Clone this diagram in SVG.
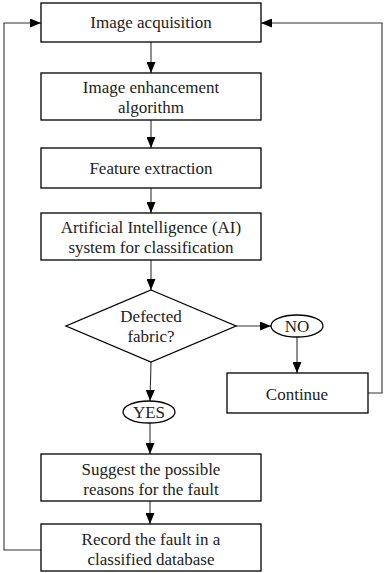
<svg xmlns="http://www.w3.org/2000/svg" width="384" height="573" viewBox="0 0 384 573">
<style>
.box{fill:#fff;stroke:#000;stroke-width:1.3}
.t{font-family:"Times New Roman","Liberation Serif",Tinos,"Nimbus Roman","DejaVu Serif",serif;font-size:17px;fill:#222;text-anchor:middle}
.c{fill:none;stroke:#333;stroke-width:1.1}
</style>
<defs>
<marker id="ah" markerWidth="11" markerHeight="9" refX="11" refY="4.5" orient="auto" markerUnits="userSpaceOnUse">
<path d="M0,0 L11,4.5 L0,9 Z" fill="#000"/>
</marker>
</defs>
<rect width="384" height="573" fill="#fff"/>
<g id="connectors">
<line class="c" x1="151" y1="42" x2="151" y2="73" marker-end="url(#ah)"/>
<line class="c" x1="151" y1="120" x2="151" y2="148" marker-end="url(#ah)"/>
<line class="c" x1="151" y1="188" x2="151" y2="213" marker-end="url(#ah)"/>
<line class="c" x1="151" y1="260" x2="151" y2="290" marker-end="url(#ah)"/>
<line class="c" x1="236" y1="326" x2="271" y2="326" marker-end="url(#ah)"/>
<line class="c" x1="297" y1="337" x2="297" y2="373" marker-end="url(#ah)"/>
<line class="c" x1="151" y1="362" x2="150" y2="401" marker-end="url(#ah)"/>
<line class="c" x1="150" y1="423" x2="150" y2="454" marker-end="url(#ah)"/>
<line class="c" x1="150" y1="501" x2="150" y2="524" marker-end="url(#ah)"/>
<polyline class="c" points="368,393 382,393 382,23 261,23" marker-end="url(#ah)"/>
<polyline class="c" points="41,550 4,550 4,23 41,23" marker-end="url(#ah)"/>
</g>
<g id="n1"><rect class="box" x="41" y="3" width="220" height="39"/><text class="t" x="151" y="28" font-family="Liberation Serif, serif">Image acquisition</text></g>
<g id="n2"><rect class="box" x="41" y="73" width="220" height="47"/><text class="t" x="151" y="93">Image enhancement</text><text class="t" x="151" y="113">algorithm</text></g>
<g id="n3"><rect class="box" x="41" y="148" width="220" height="40"/><text class="t" x="151" y="174">Feature extraction</text></g>
<g id="n4"><rect class="box" x="41" y="213" width="220" height="47"/><text class="t" x="151" y="233">Artificial Intelligence (AI)</text><text class="t" x="151" y="253">system for classification</text></g>
<g id="n5"><polygon class="box" points="151,290 236,326 151,362 66,326"/><text class="t" x="151" y="322">Defected</text><text class="t" x="151" y="342">fabric?</text></g>
<g id="n6"><ellipse class="box" cx="297" cy="326" rx="26" ry="11"/><text class="t" x="297" y="332">NO</text></g>
<g id="n7"><rect class="box" x="227" y="373" width="141" height="40"/><text class="t" x="297" y="400">Continue</text></g>
<g id="n8"><ellipse class="box" cx="149" cy="412" rx="26" ry="11"/><text class="t" x="149" y="418">YES</text></g>
<g id="n9"><rect class="box" x="41" y="454" width="220" height="47"/><text class="t" x="151" y="475">Suggest the possible</text><text class="t" x="151" y="495">reasons for the fault</text></g>
<g id="n10"><rect class="box" x="41" y="524" width="220" height="47"/><text class="t" x="151" y="545">Record the fault in a</text><text class="t" x="151" y="565">classified database</text></g>
</svg>
